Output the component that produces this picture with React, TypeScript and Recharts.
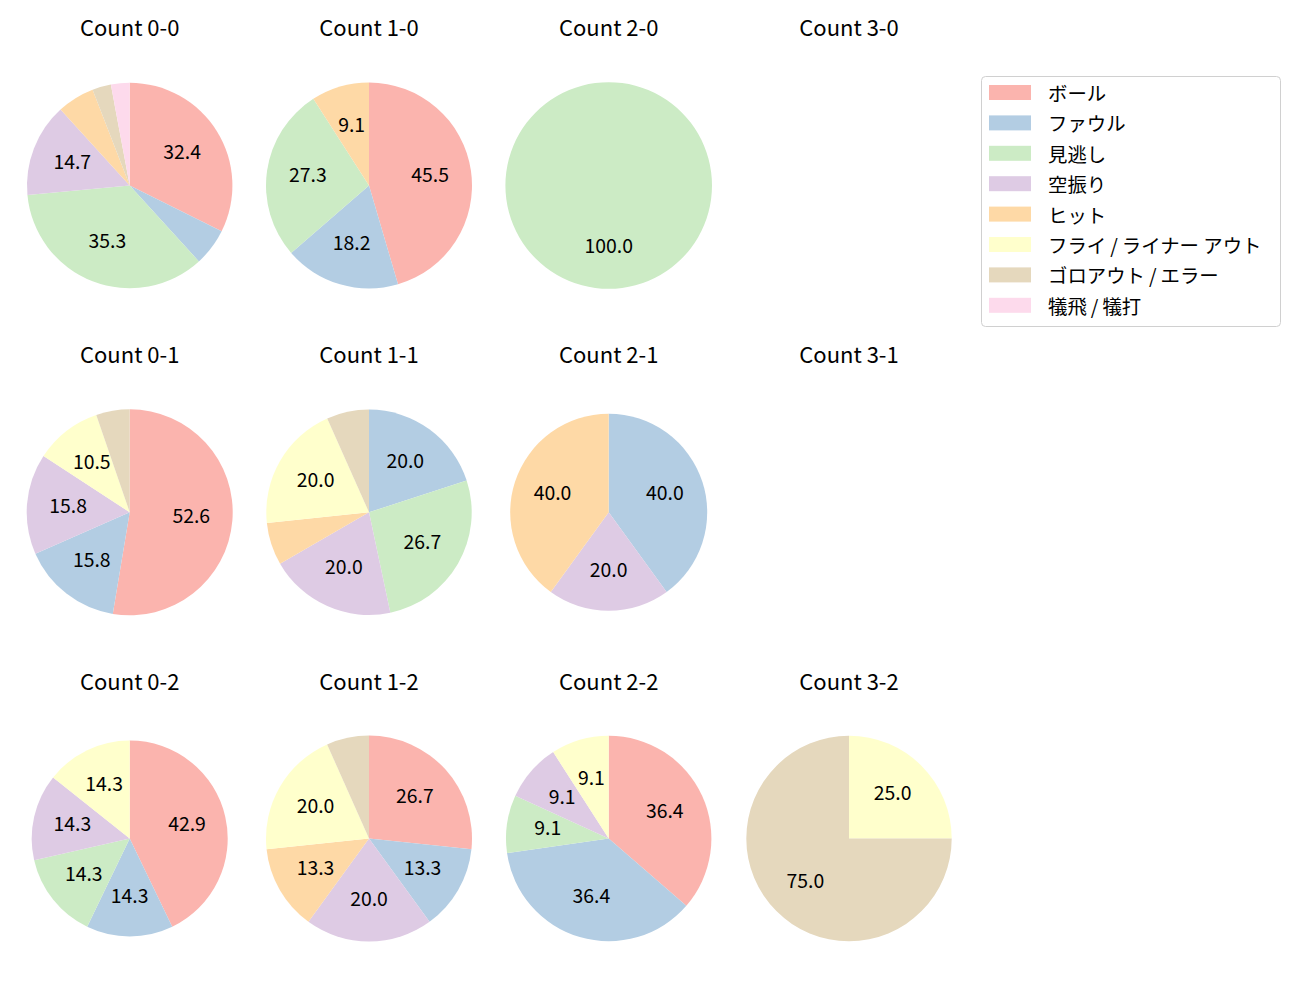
import React from 'react';
import { PieChart, Pie, Cell } from 'recharts';

const categories = ['ボール', 'ファウル', '見逃し', '空振り', 'ヒット', 'フライ/ライナー アウト', 'ゴロアウト/エラー', '犠飛/犠打'];
const colors = ['#fbb4ae', '#b3cde3', '#ccebc5', '#decbe4', '#fed9a6', '#ffffcc', '#e5d8bd', '#fddaec'];

// pitch counts per category, same order as categories
const count00 = [11, 2, 12, 5, 2, 0, 1, 1];
const count10 = [5, 2, 3, 0, 1, 0, 0, 0];
const count20 = [0, 0, 1, 0, 0, 0, 0, 0];
const count30: number[] = [];
const count01 = [10, 3, 0, 3, 0, 2, 1, 0];
const count11 = [0, 3, 4, 3, 1, 3, 1, 0];
const count21 = [0, 2, 0, 1, 2, 0, 0, 0];
const count31: number[] = [];
const count02 = [3, 1, 1, 1, 0, 1, 0, 0];
const count12 = [4, 2, 0, 3, 2, 3, 1, 0];
const count22 = [4, 4, 1, 1, 0, 1, 0, 0];
const count32 = [0, 0, 0, 0, 0, 1, 3, 0];

const titles = [
  ['Count 0-0', 'Count 1-0', 'Count 2-0', 'Count 3-0'],
  ['Count 0-1', 'Count 1-1', 'Count 2-1', 'Count 3-1'],
  ['Count 0-2', 'Count 1-2', 'Count 2-2', 'Count 3-2'],
];
const counts = [
  [count00, count10, count20, count30],
  [count01, count11, count21, count31],
  [count02, count12, count22, count32],
];

// layout
const colX = [129.7, 369, 608.7, 849];
const rowY = [185.5, 512.3, 838.5];
const titleBase = [36, 363, 690];
const radii = [
  [102.7, 103, 103.3, 103],
  [103, 102.7, 98.5, 103],
  [98, 103, 102.7, 102.7],
];

const FONT = '"Noto Sans CJK JP", "Noto Sans", sans-serif';
const RAD = Math.PI / 180;

const renderLabel = (props: any) => {
  const { cx, cy, midAngle, outerRadius, percent } = props;
  const pct = percent * 100;
  if (pct < 8) return null;
  const r = outerRadius * 0.6;
  const x = cx + r * Math.cos(-midAngle * RAD);
  const y = cy + r * Math.sin(-midAngle * RAD);
  return (
    <text x={x} y={y - 3} textAnchor="middle" dominantBaseline="central" fontSize={19.4} fontFamily={FONT} fill="#000">
      {pct.toFixed(1)}
    </text>
  );
};

const SIZE = 250;
const noMargin = { top: 0, right: 0, bottom: 0, left: 0 };

const CountPie = ({ values, x, y, r }: { values: number[]; x: number; y: number; r: number }) => {
  const data = categories
    .map((name, i) => ({ name, value: values[i] || 0, color: colors[i] }))
    .filter((d) => d.value > 0);
  if (data.length === 0) return null;
  const left = Math.round(x) - SIZE / 2;
  const top = Math.round(y) - SIZE / 2;
  return (
    <div style={{ position: 'absolute', left, top }}>
      <PieChart width={SIZE} height={SIZE} margin={noMargin}>
        <Pie
          data={data}
          dataKey="value"
          nameKey="name"
          cx={SIZE / 2 + (x - Math.round(x))}
          cy={SIZE / 2 + (y - Math.round(y))}
          outerRadius={r}
          startAngle={90}
          endAngle={-270}
          stroke="none"
          label={renderLabel}
          labelLine={false}
          isAnimationActive={false}
        >
          {data.map((d) => (
            <Cell key={d.name} fill={d.color} />
          ))}
        </Pie>
      </PieChart>
    </div>
  );
};

// the reference font sets the slash wider, so pad around it
const legendText = (s: string) => {
  const parts = s.split('/');
  return parts.map((p, i) => (
    <React.Fragment key={i}>
      {i > 0 && <tspan dx={4}>/</tspan>}
      <tspan dx={i > 0 ? 4 : 0}>{p}</tspan>
    </React.Fragment>
  ));
};

export default function App() {
  return (
    <div style={{ position: 'absolute', left: 0, top: 0, width: 1300, height: 1000, background: '#fff', fontFamily: FONT }}>
      {counts.map((row, ri) =>
        row.map((vals, ci) => (
          <CountPie key={`${ri}-${ci}`} values={vals} x={colX[ci]} y={rowY[ri]} r={radii[ri][ci]} />
        ))
      )}

      {/* titles and legend */}
      <svg width={1300} height={1000} style={{ position: 'absolute', left: 0, top: 0, pointerEvents: 'none' }}>
        {titles.map((row, ri) =>
          row.map((t, ci) => (
            <text key={t} x={colX[ci]} y={titleBase[ri]} textAnchor="middle" fontSize={22} fontFamily={FONT} fill="#000">
              {t}
            </text>
          ))
        )}
        <rect x={981.5} y={76.5} width={299} height={250} rx={4} fill="#fff" stroke="#d0d0d0" strokeWidth={1} />
        {categories.map((c, i) => (
          <g key={c}>
            <rect x={989} y={85 + i * 30.4} width={42} height={15} fill={colors[i]} />
            <text x={1048} y={92 + i * 30.4} dominantBaseline="central" fontSize={19.4} fontFamily={FONT} fill="#000">
              {legendText(c)}
            </text>
          </g>
        ))}
      </svg>
    </div>
  );
}
